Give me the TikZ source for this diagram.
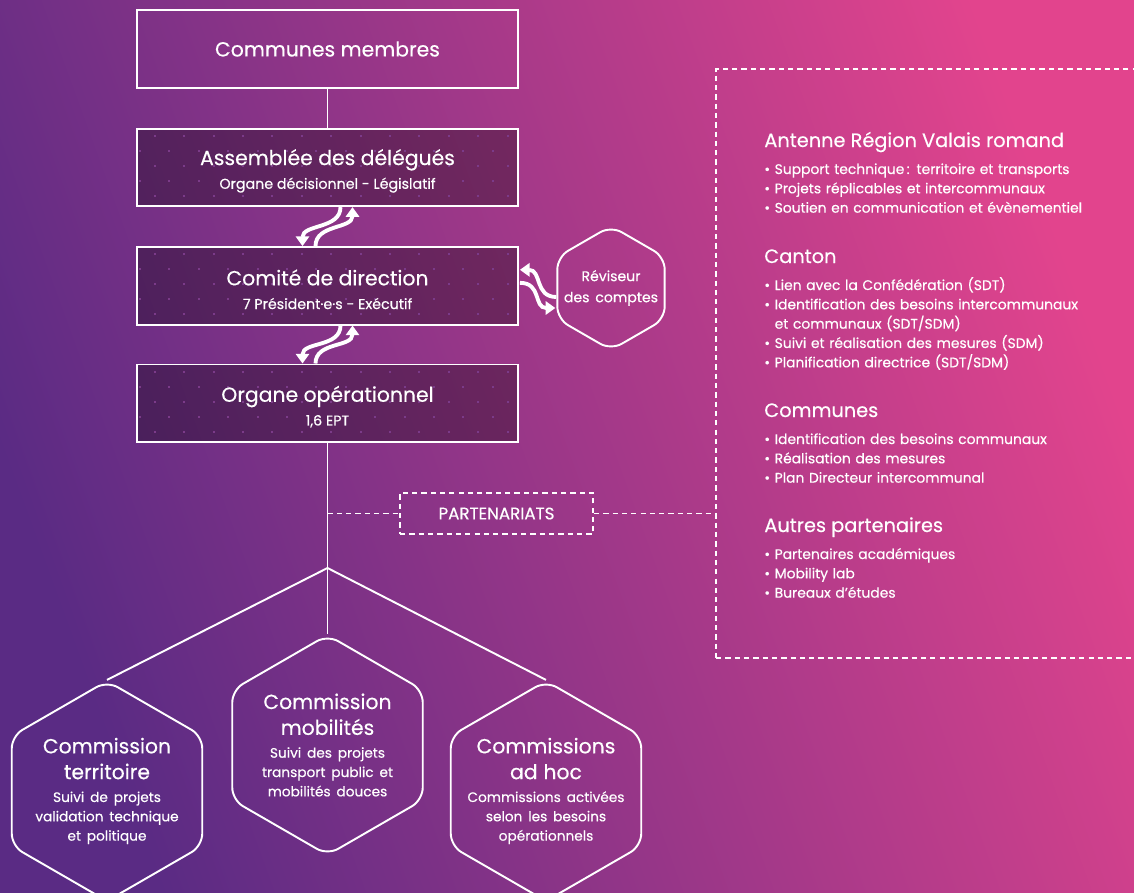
\documentclass[tikz,border=0pt]{standalone}
\usepackage{fontspec}
\setmainfont{Poppins}[FakeBold=0.4]
\usetikzlibrary{
  positioning,
  arrows.meta,
  shapes.geometric,
  calc,
  backgrounds
}
\definecolor{bgpurple}{HTML}{5A2B84}
\definecolor{bgmid}{HTML}{9C3A8F}
\definecolor{bgpink}{HTML}{E2448D}
\definecolor{dotpink}{HTML}{B155C5}
\newcommand\boxtitlefont{\fontsize{11.6}{14}\selectfont\rule{0pt}{13pt}}
\newcommand\boxsubfont{\fontsize{8.1}{9}\selectfont}
\newcommand\hextitlefont{\fontsize{11.6}{14.7}\selectfont}
\newcommand\hexsubfont{\fontsize{7.8}{11}\selectfont}
\newcommand\panelheadfont{\fontsize{11}{13}\selectfont}
\newcommand\panelitemfont{\fontsize{7.9}{11}\selectfont}
\tikzset{
  orgbox/.style={draw=white,line width=1.1pt,text=white,align=center,
    minimum width=7.62cm,minimum height=1.55cm,inner sep=0pt},
  darkbox/.style={orgbox,fill=black,fill opacity=0.3,text opacity=1},
  hexa/.style={draw=white,line width=1.1pt,regular polygon,regular polygon sides=6,
    shape border rotate=30,minimum size=#1,inner sep=0pt,rounded corners=7pt},
  hexa/.default=4.4cm,
  hexlabel/.style={text=white,align=center,text width=3.6cm,inner sep=0pt},
  link/.style={draw=white,line width=1.1pt},
  swap/.style={white,line width=2.2pt,-{Triangle[width=7.5pt,length=5.5pt]}},
  dashlink/.style={white,line width=1.1pt,dash pattern=on 3pt off 2.3pt},
  panelhead/.style={text=white,anchor=base west,inner sep=0pt,font=\panelheadfont},
  panelitems/.style={text=white,anchor=base west,inner sep=0pt,text width=7.5cm,
    align=left,font=\panelitemfont},
  dot/.style={fill=dotpink}
}
\begin{document}
\begin{tikzpicture}[x=0.02cm,y=-0.02cm]
  \useasboundingbox (0,0) rectangle (1134,893);
  \begin{scope}[on background layer]
    \shade[left color=bgpurple,middle color=bgmid,right color=bgpink,shading angle=110]
      (0,0) rectangle (1134,893);
  \end{scope}
%
  \node[orgbox] (communes) at (327.5,49) {\fontsize{11.6}{14}\selectfont Communes membres};
  \node[darkbox,below=0.78cm of communes] (asm)
    {{\boxtitlefont Assemblée des délégués}\\[1.5pt]{\boxsubfont Organe décisionnel - Législatif}};
  \node[darkbox,below=0.78cm of asm] (cdir)
    {{\boxtitlefont Comité de direction}\\[1.5pt]{\boxsubfont 7 Président·e·s - Exécutif}};
  \node[darkbox,below=0.76cm of cdir] (ops)
    {{\boxtitlefont Organe opérationnel}\\[1.5pt]{\boxsubfont 1,6 EPT}};
  \begin{scope}[on background layer]
    \foreach \b in {asm,cdir,ops}
      \foreach \r in {0,...,4}
        \foreach \c in {0,...,12}
          \fill[dot] ($(\b.north west)+({3+14.7*mod(\r+1,2)+29.4*\c},{7+15*\r})$) rectangle +(2,2);
  \end{scope}
%
  \node[hexa=2.48cm] (rev) at (611,288) {};
  \node[hexlabel,text width=2cm] (rev-t) at (rev) {\fontsize{8}{10}\selectfont Réviseur\\des comptes};
%
  \draw[link] (communes) -- (asm);
  \draw[swap] ($(asm.south)+(13,0)$) .. controls +(0,22) and +(0,-22) .. ($(cdir.north)+(-25,0)$);
  \draw[swap] ($(cdir.north)+(-12,0)$) .. controls +(0,-22) and +(0,22) .. ($(asm.south)+(25,0)$);
  \draw[swap] ($(cdir.south)+(13,0)$) .. controls +(0,22) and +(0,-22) .. ($(ops.north)+(-25,0)$);
  \draw[swap] ($(ops.north)+(-12,0)$) .. controls +(0,-22) and +(0,22) .. ($(cdir.south)+(25,0)$);
  \draw[swap] ($(rev.west)+(0,9)$) .. controls +(-22,0) and +(22,0) .. ($(cdir.east)+(1,-16)$);
  \draw[swap] ($(cdir.east)+(1,-3)$) .. controls +(22,0) and +(-22,0) .. ($(rev.west)+(-1,20)$);
%
  \node[hexa] (terr) at (107,791) {};
  \node[hexa] (mob) at (327.5,745) {};
  \node[hexa] (adhoc) at (546,791) {};
  \node[hexlabel] (terr-t) at (terr)
    {{\hextitlefont Commission\\territoire\par}\vspace{2pt}
     {\hexsubfont Suivi de projets\\validation technique\\et politique\par}};
  \node[hexlabel] (mob-t) at (mob)
    {{\hextitlefont Commission\\mobilités\par}\vspace{2pt}
     {\hexsubfont Suivi des projets\\transport public et\\mobilités douces\par}};
  \node[hexlabel] (adhoc-t) at (adhoc)
    {{\hextitlefont Commissions\\ad hoc\par}\vspace{2pt}
     {\hexsubfont Commissions activées\\selon les besoins\\opérationnels\par}};
  \coordinate (fork) at (327.5,568);
  \draw[link] (ops) -- (mob);
  \draw[link] (terr.north) -- (fork) -- (adhoc.north);
%
  \node[draw=white,dashlink,minimum width=8.48cm,minimum height=11.78cm] (panel) at (928,363.5) {};
  \node[draw=white,dashlink,text=white,minimum width=3.86cm,minimum height=0.82cm,
    font=\fontsize{9.5}{10}\selectfont] (part) at (496.5,513.5) {PARTENARIATS};
  \coordinate (tap) at (ops.south |- part);
  \draw[dashlink] (tap) -- (part.west);
  \draw[dashlink] (part.east) -- (part -| panel.west);
%
  \node[panelhead] (antenne) at (764,147) {Antenne Région Valais romand};
  \node[panelitems] (antenne-l) at ($(antenne.base west)+(0,27)$)
    {• Support technique\,: territoire et transports\\
     • Projets réplicables et intercommunaux\\
     • Soutien en communication et évènementiel};
  \node[panelhead] (canton) at (764,263) {Canton};
  \node[panelitems] (canton-l) at ($(canton.base west)+(0,27)$)
    {• Lien avec la Confédération (SDT)\\
     • Identification des besoins intercommunaux\\
     \hphantom{• }et communaux (SDT/SDM)\\
     • Suivi et réalisation des mesures (SDM)\\
     • Planification directrice (SDT/SDM)};
  \node[panelhead] (communes2) at (764,417) {Communes};
  \node[panelitems] (communes2-l) at ($(communes2.base west)+(0,27)$)
    {• Identification des besoins communaux\\
     • Réalisation des mesures\\
     • Plan Directeur intercommunal};
  \node[panelhead] (autres) at (764,532) {Autres partenaires};
  \node[panelitems] (autres-l) at ($(autres.base west)+(0,27)$)
    {• Partenaires académiques\\
     • Mobility lab\\
     • Bureaux d’études};
\end{tikzpicture}
\end{document}
